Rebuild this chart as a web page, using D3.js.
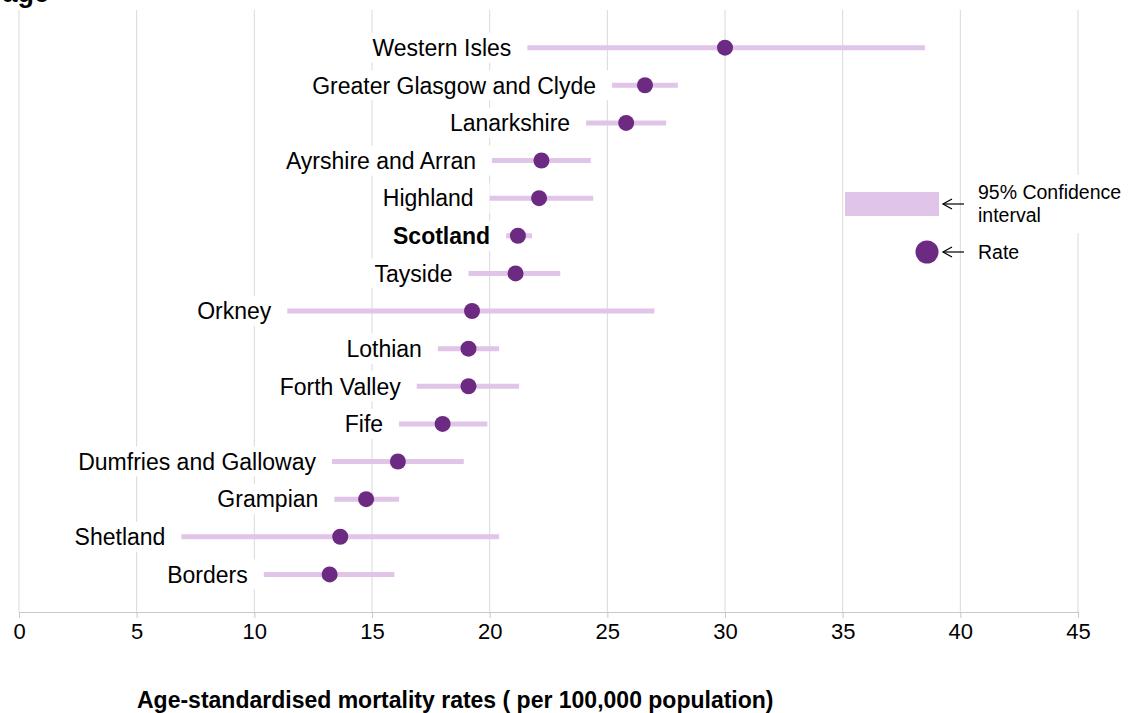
<!DOCTYPE html>
<html>
<head>
<meta charset="utf-8">
<script src="https://cdn.jsdelivr.net/npm/d3@7"></script>
<style>
  html, body { margin: 0; padding: 0; background: #fff; }
  svg { display: block; font-family: "Liberation Sans", Arial, sans-serif; }
</style>
</head>
<body>
<svg id="chart" width="1131" height="713"></svg>
<script>
// NHS Board age-standardised mortality rates with 95% confidence intervals
const categories = [
  "Western Isles", "Greater Glasgow and Clyde", "Lanarkshire", "Ayrshire and Arran",
  "Highland", "Scotland", "Tayside", "Orkney", "Lothian", "Forth Valley", "Fife",
  "Dumfries and Galloway", "Grampian", "Shetland", "Borders"
];
const rates   = [30.0, 26.6, 25.8, 22.2, 22.1, 21.2, 21.1, 19.25, 19.1, 19.1, 18.0, 16.1, 14.75, 13.65, 13.2];
const ciLower = [21.6, 25.2, 24.1, 20.1, 20.0, 20.7, 19.1, 11.4, 17.8, 16.9, 16.15, 13.3, 13.4, 6.9, 10.4];
const ciUpper = [38.5, 28.0, 27.5, 24.3, 24.4, 21.8, 23.0, 27.0, 20.4, 21.25, 19.9, 18.9, 16.15, 20.4, 15.95];
const xTicks  = [0, 5, 10, 15, 20, 25, 30, 35, 40, 45];
const highlight = "Scotland";

const rows = categories.map((name, i) => ({ name, rate: rates[i], lo: ciLower[i], hi: ciUpper[i] }));

const ciColor = "#e1c5e9";
const dotColor = "#6c2a82";
const gridColor = "#d9d9d9";

const svg = d3.select("#chart");
const plotLeft = 19, plotRight = 1078, plotTop = 10, plotBottom = 612;

const x = d3.scaleLinear().domain([0, 45]).range([plotLeft, plotRight]);
const y = d3.scalePoint().domain(categories).range([plotTop, plotBottom]).padding(1);

// tail of the title line at the top edge
svg.append("text")
  .attr("x", 49).attr("y", 2)
  .attr("text-anchor", "end")
  .attr("font-weight", "bold")
  .attr("font-size", 27)
  .attr("fill", "#000")
  .text("age");

// vertical gridlines
svg.append("g").selectAll("line")
  .data(xTicks)
  .join("line")
  .attr("x1", d => x(d)).attr("x2", d => x(d))
  .attr("y1", plotTop).attr("y2", plotBottom)
  .attr("stroke", gridColor).attr("stroke-width", 1);

// x axis
const axis = svg.append("g")
  .attr("transform", `translate(0,${plotBottom})`)
  .call(d3.axisBottom(x).tickValues(xTicks).tickSize(6).tickPadding(5).tickFormat(d3.format("d")));
axis.select(".domain").attr("stroke", "#c8c8c8");
axis.selectAll(".tick line").attr("stroke", "#c8c8c8");
axis.selectAll(".tick text")
  .attr("font-family", "'Liberation Sans', Arial, sans-serif")
  .attr("font-size", 22).attr("fill", "#000");

svg.append("text")
  .attr("x", 137).attr("y", 708)
  .attr("font-weight", "bold").attr("font-size", 23).attr("fill", "#000")
  .text("Age-standardised mortality rates ( per 100,000 population)");

// category labels with white backing, placed left of each interval
const labelGap = 16;
const labels = svg.append("g");
rows.forEach(d => {
  const g = labels.append("g");
  const bg = g.append("rect").attr("fill", "#fff");
  const t = g.append("text")
    .attr("x", x(d.lo) - labelGap)
    .attr("y", y(d.name))
    .attr("dy", "0.36em")
    .attr("text-anchor", "end")
    .attr("font-size", 23)
    .attr("font-weight", d.name === highlight ? "bold" : "normal")
    .attr("fill", "#000")
    .text(d.name);
  const b = t.node().getBBox();
  bg.attr("x", b.x - 6).attr("y", y(d.name) - 15)
    .attr("width", x(d.lo) - (b.x - 6)).attr("height", 30);
});

// confidence intervals
svg.append("g").selectAll("line")
  .data(rows)
  .join("line")
  .attr("x1", d => x(d.lo)).attr("x2", d => x(d.hi))
  .attr("y1", d => y(d.name)).attr("y2", d => y(d.name))
  .attr("stroke", ciColor).attr("stroke-width", 5);

// rate markers
svg.append("g").selectAll("circle")
  .data(rows)
  .join("circle")
  .attr("cx", d => x(d.rate)).attr("cy", d => y(d.name))
  .attr("r", 8).attr("fill", dotColor);

// legend
const legend = svg.append("g");
legend.append("rect")
  .attr("x", 972).attr("y", 175).attr("width", 159).attr("height", 58)
  .attr("fill", "#fff");
legend.append("rect")
  .attr("x", 845).attr("y", 192).attr("width", 94).attr("height", 24)
  .attr("fill", ciColor);
legend.append("circle")
  .attr("cx", 927).attr("cy", 252).attr("r", 11.5).attr("fill", dotColor);

function arrow(yPos) {
  legend.append("line")
    .attr("x1", 943).attr("x2", 964).attr("y1", yPos).attr("y2", yPos)
    .attr("stroke", "#000").attr("stroke-width", 1.2);
  legend.append("polyline")
    .attr("points", `952,${yPos - 5} 943,${yPos} 952,${yPos + 5}`)
    .attr("fill", "none").attr("stroke", "#000").attr("stroke-width", 1.2);
}
arrow(204);
arrow(252);

const legendFont = 19.5;
legend.append("text").attr("x", 978).attr("y", 199)
  .attr("font-size", legendFont).attr("fill", "#000").text("95% Confidence");
legend.append("text").attr("x", 978).attr("y", 222)
  .attr("font-size", legendFont).attr("fill", "#000").text("interval");
legend.append("text").attr("x", 978).attr("y", 259)
  .attr("font-size", legendFont).attr("fill", "#000").text("Rate");
</script>
</body>
</html>
